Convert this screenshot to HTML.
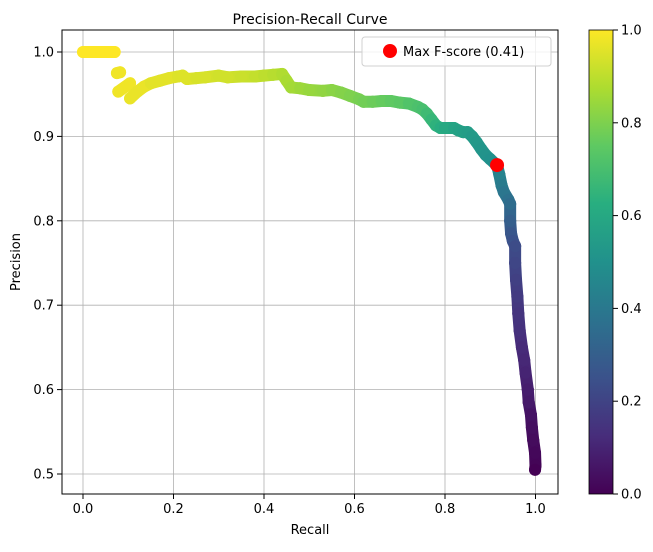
<!DOCTYPE html>
<html><head><meta charset="utf-8"><style>
body{margin:0;background:#fff;font-family:"Liberation Sans","DejaVu Sans",sans-serif}
svg text{font-family:"DejaVu Sans","Liberation Sans",sans-serif}
</style></head><body>
<svg id="chart" width="653" height="547" xmlns="http://www.w3.org/2000/svg">
<defs><linearGradient id="vir" x1="0" y1="1" x2="0" y2="0">
<stop offset="0" stop-color="#440154"/><stop offset="0.125" stop-color="#472d7b"/><stop offset="0.25" stop-color="#3b528b"/><stop offset="0.375" stop-color="#2c728e"/><stop offset="0.5" stop-color="#21918c"/><stop offset="0.625" stop-color="#28ae80"/><stop offset="0.75" stop-color="#5ec962"/><stop offset="0.875" stop-color="#addc30"/><stop offset="1" stop-color="#fde725"/></linearGradient></defs>
<g id="grid"></g><g id="marks"></g><g id="axes"></g>
</svg>
<script>
const recall=[0,0.01,0.02,0.03,0.04,0.05,0.06,0.07,0.075,0.082,0.078,0.104,0.104,0.12,0.135,0.15,0.17,0.19,0.21,0.22,0.23,0.25,0.27,0.3,0.32,0.35,0.38,0.4,0.42,0.44,0.45,0.46,0.48,0.5,0.53,0.55,0.57,0.59,0.61,0.62,0.64,0.66,0.68,0.7,0.72,0.74,0.75,0.76,0.77,0.78,0.79,0.8,0.82,0.83,0.84,0.85,0.86,0.87,0.88,0.89,0.9,0.91,0.915,0.92,0.925,0.93,0.94,0.944,0.944,0.946,0.95,0.955,0.955,0.957,0.96,0.962,0.965,0.97,0.975,0.978,0.983,0.985,0.99,0.992,0.995,0.999,1.0,0.999];
const precision=[1,1,1,1,1,1,1,1,0.975,0.976,0.953,0.963,0.945,0.953,0.959,0.963,0.966,0.969,0.971,0.972,0.968,0.969,0.97,0.972,0.97,0.971,0.971,0.972,0.973,0.974,0.966,0.958,0.957,0.955,0.954,0.955,0.952,0.948,0.944,0.941,0.941,0.942,0.942,0.94,0.939,0.935,0.932,0.927,0.92,0.913,0.91,0.91,0.91,0.907,0.905,0.905,0.9,0.893,0.885,0.878,0.873,0.868,0.866,0.855,0.842,0.834,0.825,0.82,0.8,0.785,0.776,0.77,0.75,0.73,0.71,0.69,0.67,0.65,0.635,0.62,0.6,0.585,0.57,0.555,0.54,0.525,0.51,0.505];
const threshold=[1,1,1,1,1,1,1,1,0.98,0.98,0.98,0.98,0.97,0.97,0.97,0.96,0.96,0.96,0.95,0.95,0.95,0.94,0.94,0.93,0.93,0.92,0.91,0.9,0.89,0.88,0.87,0.86,0.85,0.84,0.83,0.82,0.81,0.8,0.79,0.78,0.77,0.76,0.75,0.74,0.72,0.71,0.7,0.68,0.66,0.64,0.62,0.6,0.58,0.57,0.56,0.55,0.54,0.53,0.52,0.51,0.5,0.48,0.47,0.44,0.41,0.39,0.37,0.35,0.3,0.27,0.25,0.23,0.21,0.19,0.17,0.15,0.14,0.12,0.11,0.1,0.08,0.07,0.05,0.04,0.03,0.02,0.01,0];
const breaks=[8,10,12];
const maxRecall=0.915, maxPrecision=0.866;
const xTicks=["0.0","0.2","0.4","0.6","0.8","1.0"];
const yTicks=["0.5","0.6","0.7","0.8","0.9","1.0"];
const cbTicks=["0.0","0.2","0.4","0.6","0.8","1.0"];

const NS="http://www.w3.org/2000/svg";
const X0=62,X1=558,Y0=30,Y1=494;
const xs=v=>83+v*452.5, ys=v=>52+(1-v)*844;
const vir=[[68,1,84],[71,45,123],[59,82,139],[44,114,142],[33,145,140],[40,174,128],[94,201,98],[173,220,48],[253,231,37]];
function col(t){t=Math.max(0,Math.min(1,t))*8;const i=Math.min(7,Math.floor(t)),f=t-i;const a=vir[i],b=vir[i+1];return `rgb(${a.map((c,k)=>Math.round(c+(b[k]-c)*f)).join(',')})`;}
function mk(tag,attrs,parent){const e=document.createElementNS(NS,tag);for(const k in attrs)e.setAttribute(k,attrs[k]);parent.appendChild(e);return e;}
const grid=document.getElementById('grid'),marks=document.getElementById('marks'),axes=document.getElementById('axes');
mk('rect',{x:X0,y:Y0,width:X1-X0,height:Y1-Y0,fill:'#fff'},grid);
xTicks.forEach(t=>{const x=xs(+t);
 const l=mk('line',{x1:x,x2:x,y1:Y0,y2:Y1,stroke:'#b0b0b0','stroke-width':0.8},grid);
 
 mk('line',{x1:x,x2:x,y1:Y1,y2:Y1+5,stroke:'#000'},axes);
 const tx=mk('text',{x:x,y:Y1+19,'font-size':13,'text-anchor':'middle'},axes);tx.textContent=t;
 });
yTicks.forEach(t=>{const y=ys(+t);
 const l=mk('line',{x1:X0,x2:X1,y1:y,y2:y,stroke:'#b0b0b0','stroke-width':0.8},grid);
 
 mk('line',{x1:X0-5,x2:X0,y1:y,y2:y,stroke:'#000'},axes);
 const tx=mk('text',{x:X0-8,y:y+4.5,'font-size':13,'text-anchor':'end'},axes);tx.textContent=t;
 });
for(let i=0;i<recall.length-1;i++){ if(breaks.includes(i+1))continue;
 const s=mk('line',{x1:xs(recall[i]),y1:ys(precision[i]),x2:xs(recall[i+1]),y2:ys(precision[i+1]),stroke:col((threshold[i]+threshold[i+1])/2),'stroke-width':12,'stroke-linecap':'round'},marks);
 }
for(let i=0;i<recall.length;i++){
 const c=mk('circle',{cx:xs(recall[i]),cy:ys(precision[i]),r:6,fill:col(threshold[i])},marks);
 }
const md=mk('circle',{cx:xs(maxRecall),cy:ys(maxPrecision),r:7,fill:'#ff0000'},marks);

const fr=mk('rect',{x:X0,y:Y0,width:X1-X0,height:Y1-Y0,fill:'none',stroke:'#000','stroke-width':1},axes);

const title=mk('text',{x:310,y:24,'font-size':14,'text-anchor':'middle'},axes);title.textContent='Precision-Recall Curve';

const xl=mk('text',{x:310,y:534,'font-size':13,'text-anchor':'middle'},axes);xl.textContent='Recall';

const yl=mk('text',{x:20,y:262,'font-size':13,'text-anchor':'middle',transform:'rotate(-90 20 262)'},axes);yl.textContent='Precision';

const lg=mk('g',{},axes);
mk('rect',{x:362,y:37,width:189,height:29,rx:3,fill:'#fff','fill-opacity':0.8,stroke:'#d0d0d0'},lg);
mk('circle',{cx:390,cy:51,r:7,fill:'#ff0000'},lg);
const lt=mk('text',{x:403,y:56,'font-size':13},lg);lt.textContent='Max F-score (0.41)';

const cb=mk('rect',{x:589,y:Y0,width:24,height:Y1-Y0,fill:'url(#vir)',stroke:'#000','stroke-width':0.8},axes);

cbTicks.forEach(t=>{const y=Y1-(+t)*(Y1-Y0);
 mk('line',{x1:613,x2:618,y1:y,y2:y,stroke:'#000'},axes);
 const tx=mk('text',{x:621,y:y+4.5,'font-size':13},axes);tx.textContent=t;
 });
</script>
</body></html>
